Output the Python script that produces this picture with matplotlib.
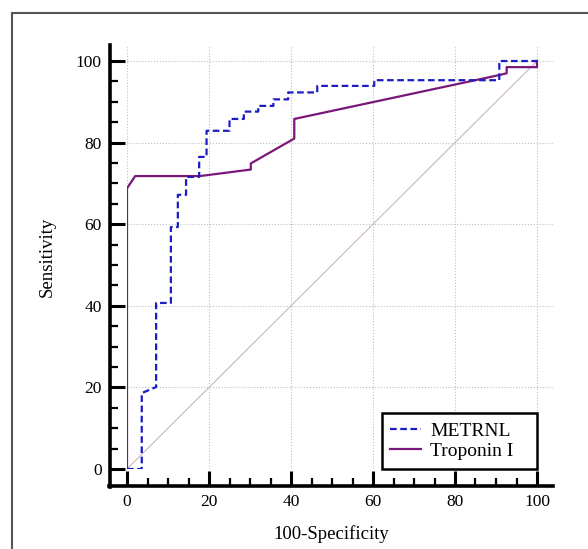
import matplotlib.pyplot as plt
from matplotlib.patches import Rectangle
from matplotlib.ticker import MultipleLocator

# ROC points (100-Specificity, Sensitivity)
metrnl_x = [0, 3.6, 3.6, 7.1, 7.1, 10.7, 10.7, 12.4, 12.4, 14.4, 14.4, 17.6, 17.6,
            19.4, 19.4, 25, 25, 28.5, 28.5, 32, 32, 35.7, 35.7, 39.3, 39.3, 46.4,
            46.4, 60.3, 60.3, 90.8, 90.8, 100]
metrnl_y = [0, 0, 18.6, 20.1, 40.7, 40.7, 59.3, 59.3, 67.2, 67.2, 71.6, 71.6, 76.5,
            76.5, 82.9, 82.9, 85.8, 85.8, 87.6, 87.6, 89.0, 89.0, 90.6, 90.6, 92.3,
            92.3, 93.9, 93.9, 95.3, 95.3, 100, 100]

trop_x = [0, 0, 2.0, 17.8, 30.2, 30.2, 40.8, 40.8, 91.0, 92.6, 92.6, 100, 100]
trop_y = [0, 68.8, 71.8, 71.8, 73.4, 74.9, 81.0, 85.8, 96.6, 97.0, 98.5, 98.5, 100]

ref_line = [0, 100]

plt.rcParams['font.family'] = ['Liberation Serif', 'DejaVu Serif']

fig = plt.figure(figsize=(5.88, 5.49), dpi=100)
ax = fig.add_axes([127 / 588, 80 / 549, 426.4 / 588, 424.3 / 549])

# outer frame of the original figure
fig.patches.append(Rectangle((12 / 588, -0.1), 1.1, 1 - 13 / 549 + 0.1,
                             transform=fig.transFigure, fill=False,
                             edgecolor='#555555', linewidth=1.5))

ax.plot(ref_line, ref_line, color='#cbb8b8', linewidth=0.8, zorder=1)
ax.plot(metrnl_x, metrnl_y, color='#1c1cc4', linestyle=(0, (3, 1.6)),
        linewidth=1.6, label='METRNL', zorder=3)
# trailing spaces widen the legend box like in the original
ax.plot(trop_x, trop_y, color='#7b1778', linewidth=1.6, label='Troponin I   ', zorder=2)

ax.set_xlim(0, 104)
ax.set_ylim(0, 104)
ax.xaxis.set_major_locator(MultipleLocator(20))
ax.yaxis.set_major_locator(MultipleLocator(20))
ax.xaxis.set_minor_locator(MultipleLocator(5))
ax.yaxis.set_minor_locator(MultipleLocator(5))
ax.grid(True, which='major', linestyle=':', color='#bdbdbd', linewidth=0.8)

for side in ['top', 'right']:
    ax.spines[side].set_visible(False)
for side in ['left', 'bottom']:
    # 17 px outward at 100 dpi
    ax.spines[side].set_position(('outward', 12.2))
    ax.spines[side].set_linewidth(2.6)
ax.spines['left'].set_bounds(-4.4, 104)
ax.spines['bottom'].set_bounds(-4.4, 104)

ax.tick_params(which='major', direction='in', length=11, width=2.2, labelsize=12.5, pad=6)
ax.tick_params(which='minor', direction='in', length=6, width=1.6)

ax.set_xlabel('100-Specificity', fontsize=13.5)
ax.set_ylabel('Sensitivity', fontsize=13.5)
ax.xaxis.set_label_coords(0.479, -0.133)
ax.yaxis.set_label_coords(-0.168, 0.5)

leg = ax.legend(loc='lower right', bbox_to_anchor=(100 / 104, 0), fontsize=14,
                frameon=True, fancybox=False, edgecolor='black', framealpha=1,
                handlelength=1.55, handletextpad=0.5, borderpad=0.45,
                labelspacing=0.15, borderaxespad=0)
leg.get_frame().set_linewidth(1.8)

fig.savefig('out.png', dpi=100)
